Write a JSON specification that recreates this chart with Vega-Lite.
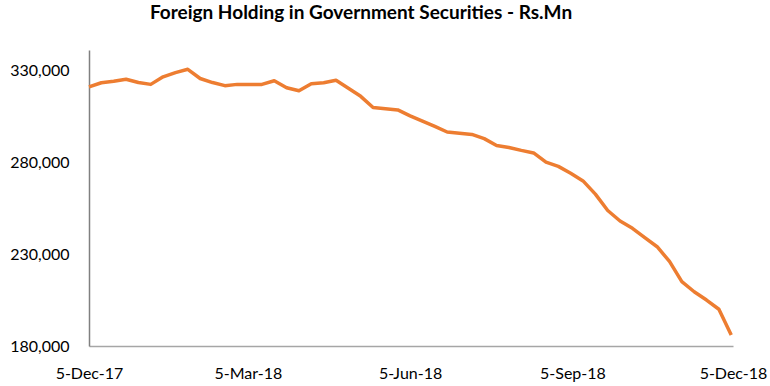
{
  "$schema": "https://vega.github.io/schema/vega-lite/v6.json",
  "autosize": "none",
  "width": 644,
  "height": 296,
  "padding": {"left": 89, "top": 50, "right": 37, "bottom": 40},
  "background": "white",
  "title": {
    "text": "Foreign Holding in Government Securities - Rs.Mn",
    "font": "Lato",
    "fontSize": 19,
    "fontWeight": "bold",
    "color": "#000000",
    "anchor": "middle",
    "frame": "group",
    "dx": -50,
    "baseline": "alphabetic",
    "offset": 12
  },
  "config": {"view": {"stroke": null}},
  "data": {
    "values": [
      {"date": "2017-12-05", "value": 320900},
      {"date": "2017-12-12", "value": 323200},
      {"date": "2017-12-19", "value": 324000},
      {"date": "2017-12-26", "value": 325100},
      {"date": "2018-01-02", "value": 323300},
      {"date": "2018-01-09", "value": 322300},
      {"date": "2018-01-16", "value": 326400},
      {"date": "2018-01-23", "value": 328700},
      {"date": "2018-01-30", "value": 330500},
      {"date": "2018-02-06", "value": 325500},
      {"date": "2018-02-13", "value": 323300},
      {"date": "2018-02-20", "value": 321600},
      {"date": "2018-02-27", "value": 322300},
      {"date": "2018-03-06", "value": 322300},
      {"date": "2018-03-13", "value": 322300},
      {"date": "2018-03-20", "value": 324300},
      {"date": "2018-03-27", "value": 320500},
      {"date": "2018-04-03", "value": 318800},
      {"date": "2018-04-10", "value": 322700},
      {"date": "2018-04-17", "value": 323200},
      {"date": "2018-04-24", "value": 324500},
      {"date": "2018-05-01", "value": 320200},
      {"date": "2018-05-08", "value": 315800},
      {"date": "2018-05-15", "value": 309700},
      {"date": "2018-05-22", "value": 309000},
      {"date": "2018-05-29", "value": 308400},
      {"date": "2018-06-05", "value": 305200},
      {"date": "2018-06-12", "value": 302300},
      {"date": "2018-06-19", "value": 299500},
      {"date": "2018-06-26", "value": 296400},
      {"date": "2018-07-03", "value": 295700},
      {"date": "2018-07-10", "value": 295100},
      {"date": "2018-07-17", "value": 292800},
      {"date": "2018-07-24", "value": 289100},
      {"date": "2018-07-31", "value": 288000},
      {"date": "2018-08-07", "value": 286400},
      {"date": "2018-08-14", "value": 285000},
      {"date": "2018-08-21", "value": 280000},
      {"date": "2018-08-28", "value": 277700},
      {"date": "2018-09-04", "value": 274000},
      {"date": "2018-09-11", "value": 269800},
      {"date": "2018-09-18", "value": 262600},
      {"date": "2018-09-25", "value": 253700},
      {"date": "2018-10-02", "value": 248000},
      {"date": "2018-10-09", "value": 244000},
      {"date": "2018-10-16", "value": 238900},
      {"date": "2018-10-23", "value": 234000},
      {"date": "2018-10-30", "value": 226000},
      {"date": "2018-11-06", "value": 215000},
      {"date": "2018-11-13", "value": 209500},
      {"date": "2018-11-20", "value": 205000},
      {"date": "2018-11-27", "value": 200000},
      {"date": "2018-12-04", "value": 186000}
    ]
  },
  "mark": {"type": "line", "color": "#ED7D31", "strokeWidth": 3.5, "strokeJoin": "round"},
  "encoding": {
    "x": {
      "field": "date",
      "type": "temporal",
      "scale": {"type": "utc", "domain": [{"year": 2017, "month": 12, "date": 5, "utc": true}, {"year": 2018, "month": 12, "date": 5, "utc": true}]},
      "axis": {
        "title": null,
        "values": [
          {"year": 2017, "month": 12, "date": 5, "utc": true},
          {"year": 2018, "month": 3, "date": 5, "utc": true},
          {"year": 2018, "month": 6, "date": 5, "utc": true},
          {"year": 2018, "month": 9, "date": 5, "utc": true},
          {"year": 2018, "month": 12, "date": 5, "utc": true}
        ],
        "labelExpr": "utcFormat(datum.value, '%-d-%b-%y')",
        "grid": false,
        "ticks": false,
        "domainColor": "#a6a6a6",
        "domainWidth": 1.5,
        "labelFont": "Lato",
        "labelFontSize": 16,
        "labelColor": "#000000",
        "labelPadding": 19,
        "labelFlush": false,
        "labelOverlap": false
      }
    },
    "y": {
      "field": "value",
      "type": "quantitative",
      "scale": {"domain": [180000, 341000], "nice": false, "zero": false},
      "axis": {
        "title": null,
        "values": [180000, 230000, 280000, 330000],
        "format": ",.0f",
        "grid": false,
        "ticks": false,
        "domainColor": "#808080",
        "domainWidth": 1.5,
        "labelFont": "Lato",
        "labelFontSize": 16,
        "labelColor": "#000000",
        "labelPadding": 20
      }
    }
  }
}
